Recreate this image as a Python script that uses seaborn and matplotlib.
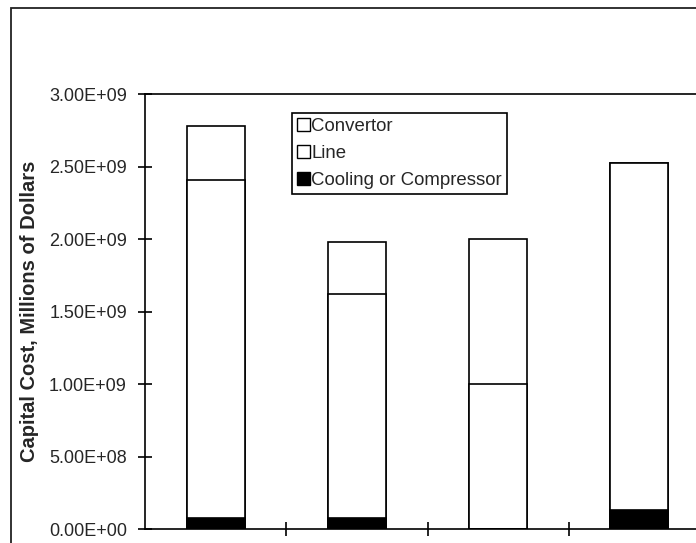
import matplotlib
matplotlib.use("Agg")
import matplotlib.pyplot as plt
import seaborn as sns
import pandas as pd
from matplotlib.patches import Patch, Rectangle

# stacked capital cost per case (dollars)
categories = ["Case 1", "Case 2", "Case 3", "Case 4"]
cooling = [0.075e9, 0.075e9, 0.0, 0.13e9]
line = [2.335e9, 1.545e9, 1.0e9, 2.40e9]
convertor = [0.37e9, 0.36e9, 1.0e9, 0.0]
yticks = [0, 0.5e9, 1.0e9, 1.5e9, 2.0e9, 2.5e9, 3.0e9]

df = pd.DataFrame({"case": categories, "cooling": cooling, "line": line, "convertor": convertor})
df["line_top"] = df["cooling"] + df["line"]
df["total"] = df["line_top"] + df["convertor"]

sns.set_style("white")
plt.rcParams["font.family"] = ["Liberation Sans", "DejaVu Sans"]

fig = plt.figure(figsize=(6.96, 5.43), dpi=100)
ax = fig.add_axes([145 / 696, 1 - 529 / 543, 565 / 696, 434.5 / 543])

# outer chart frame (cropped on right and bottom)
fig.patches.append(Rectangle((11 / 696, -0.1), 1.2, 1 - 8 / 543 + 0.1,
                             transform=fig.transFigure, fill=False,
                             edgecolor="#222222", linewidth=1.3, zorder=0))

bar_kw = dict(width=0.41, edgecolor="black", linewidth=1.2, ax=ax)
sns.barplot(data=df, x="case", y="total", color="white", **bar_kw)
sns.barplot(data=df, x="case", y="line_top", color="white", **bar_kw)
sns.barplot(data=df, x="case", y="cooling", color="black", **bar_kw)

ax.set_ylim(0, 3.0e9)
ax.set_xlim(-0.5, 3.5)
ax.set_yticks(yticks)
ax.set_yticklabels(["{:.2E}".format(v) for v in yticks], fontsize=13)
ax.set_xticks([0.5, 1.5, 2.5, 3.5])
ax.set_xticklabels([])
ax.set_xlabel("")
ax.tick_params(axis="both", direction="inout", length=10, width=1.2, color="black", pad=8, left=True, bottom=True)
ax.set_ylabel("Capital Cost, Millions of Dollars", fontsize=14.5, fontweight="bold")
ax.yaxis.set_label_coords(-0.188, 0.5)
for s in ax.spines.values():
    s.set_color("black")
    s.set_linewidth(1.2)

handles = [Patch(facecolor="white", edgecolor="black", label="Convertor"),
           Patch(facecolor="white", edgecolor="black", label="Line"),
           Patch(facecolor="black", edgecolor="black", label="Cooling or Compressor")]
leg = ax.legend(handles=handles, loc="upper left", bbox_to_anchor=(0.26, 0.957),
                borderaxespad=0, fontsize=13.4, frameon=True, fancybox=False,
                framealpha=1, handlelength=0.7, handleheight=0.7, handletextpad=0.1,
                borderpad=0.25, labelspacing=0.55)
leg.get_frame().set_edgecolor("black")
leg.get_frame().set_linewidth(1.2)

fig.savefig("out.png", dpi=100)
